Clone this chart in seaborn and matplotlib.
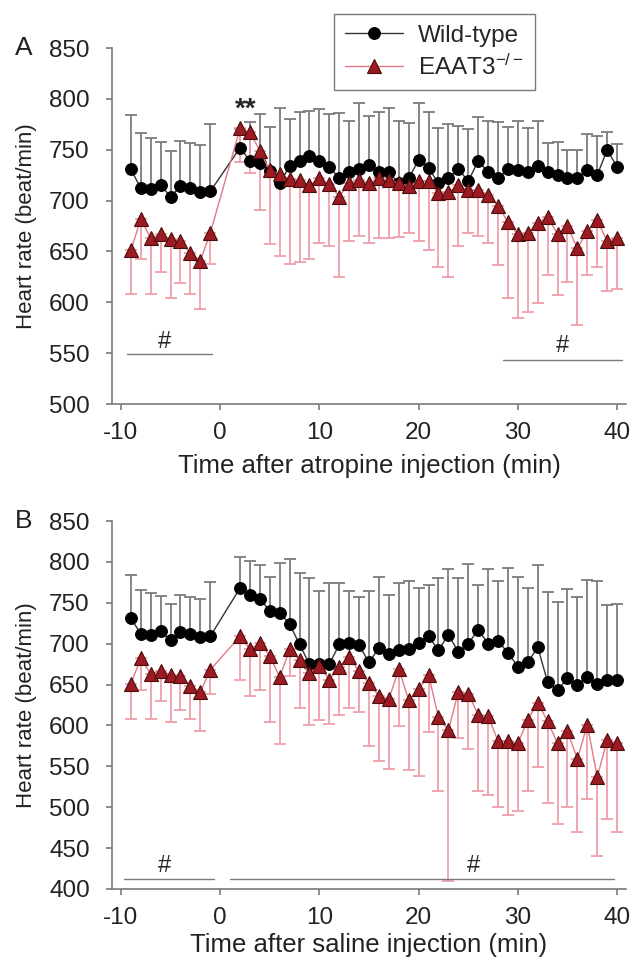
import matplotlib
matplotlib.use("Agg")
import matplotlib.pyplot as plt
import numpy as np
import seaborn as sns

sns.set_style("ticks")
plt.rcParams["font.family"] = ["Liberation Sans", "DejaVu Sans"]
plt.rcParams["mathtext.default"] = "regular"
plt.rcParams["axes.unicode_minus"] = False

# time points (min): baseline before injection, then 2..40 after
PRE_T = list(range(-9, 0))
POST_T = list(range(2, 41))

# baseline (same animals in both panels)
WT_PRE = [731, 712, 711, 715, 704, 714, 712, 708, 709]
WT_PRE_SD = [53, 54, 51, 43, 45, 45, 45, 47, 66]
KO_PRE = [651, 682, 663, 667, 662, 660, 648, 641, 668]
KO_PRE_SD = [43, 39, 55, 37, 58, 41, 40, 48, 30]

# panel A: atropine
WT_ATR = [752, 739, 737, 729, 717, 734, 739, 744, 739, 733, 722, 728, 731, 735,
          728, 728, 717, 722, 740, 732, 717, 722, 731, 719, 739, 728, 722, 731,
          730, 728, 734, 728, 725, 722, 722, 730, 725, 750, 733]
WT_ATR_SD = [18, 38, 48, 43, 74, 46, 48, 44, 51, 52, 64, 50, 65, 48, 59, 63, 61,
             54, 56, 55, 54, 53, 42, 51, 43, 50, 55, 41, 48, 43, 44, 29, 33, 28,
             28, 35, 39, 17, 23]
KO_ATR = [771, 767, 749, 730, 726, 721, 720, 715, 722, 716, 704, 717, 720, 717,
          722, 720, 717, 714, 719, 719, 707, 708, 715, 710, 710, 706, 695, 679,
          667, 668, 678, 684, 667, 675, 653, 670, 681, 660, 663]
KO_ATR_SD = [33, 40, 58, 73, 80, 83, 80, 72, 64, 61, 79, 57, 55, 59, 59, 57, 53,
             46, 59, 68, 72, 83, 60, 42, 45, 48, 58, 75, 82, 78, 79, 57, 60, 55,
             75, 43, 46, 49, 50]

# panel B: saline
WT_SAL = [768, 760, 755, 740, 738, 724, 699, 675, 675, 675, 699, 701, 698, 677,
          695, 687, 692, 694, 701, 709, 692, 711, 690, 700, 717, 700, 703, 689,
          672, 677, 696, 653, 643, 658, 650, 659, 651, 655, 655]
WT_SAL_SD = [38, 41, 41, 42, 61, 79, 87, 105, 90, 99, 75, 64, 59, 88, 87, 73, 82,
             83, 67, 63, 88, 80, 90, 98, 55, 91, 74, 104, 110, 91, 100, 110, 108,
             109, 107, 119, 126, 92, 94]
KO_SAL = [709, 693, 701, 685, 659, 693, 680, 664, 673, 656, 672, 684, 666, 652,
          636, 632, 669, 631, 644, 662, 610, 594, 641, 639, 613, 611, 581, 581,
          578, 607, 628, 605, 578, 593, 559, 601, 537, 582, 578]
KO_SAL_SD = [54, 57, 58, 81, 82, 33, 59, 63, 66, 54, 59, 63, 50, 77, 80, 85, 70,
             86, 106, 70, 90, 184, 56, 68, 93, 96, 81, 91, 83, 87, 79, 100, 98, 93,
             89, 91, 97, 97, 108]

TIME = np.array(PRE_T + POST_T)

AXIS_GRAY = "#7a7a7a"
TEXT = "#222222"
WT_BAR = "#7c7c7c"
KO_LINE = "#e07a86"
KO_FACE = "#9c1a22"
KO_EDGE = "#4a0c0c"
KO_BAR = "#efa0aa"


def draw_panel(ax, wt, wt_sd, ko, ko_sd):
    wt = WT_PRE + wt
    wt_sd = WT_PRE_SD + wt_sd
    ko = KO_PRE + ko
    ko_sd = KO_PRE_SD + ko_sd
    zero = np.zeros(len(TIME))
    ax.errorbar(TIME, wt, yerr=[zero, wt_sd], fmt="none", ecolor=WT_BAR,
                elinewidth=1.3, capsize=4, capthick=1.3, zorder=1)
    ax.errorbar(TIME, ko, yerr=[ko_sd, zero], fmt="none", ecolor=KO_BAR,
                elinewidth=1.3, capsize=4, capthick=1.3, zorder=1)
    sns.lineplot(x=TIME, y=wt, ax=ax, color="#333333", lw=1, marker="o",
                 markersize=8.5, markerfacecolor="black", markeredgecolor="black",
                 label="Wild-type", zorder=3)
    sns.lineplot(x=TIME, y=ko, ax=ax, color=KO_LINE, lw=1, marker="^",
                 markersize=9.5, markerfacecolor=KO_FACE, markeredgecolor=KO_EDGE,
                 markeredgewidth=0.8, label="EAAT3$^{-/-}$", zorder=4)
    ax.get_legend().remove()
    ax.set_xlim(-10.9, 40.9)
    ax.set_xticks(range(-10, 41, 10))
    ax.set_ylabel("Heart rate (beat/min)", fontsize=16, color=TEXT, labelpad=9)
    for side in ["top", "right"]:
        ax.spines[side].set_visible(False)
    for side in ["left", "bottom"]:
        ax.spines[side].set_color(AXIS_GRAY)
        ax.spines[side].set_linewidth(1.2)
    ax.tick_params(colors=AXIS_GRAY, labelcolor=TEXT, labelsize=17.5,
                   length=4, width=1.2, direction="out")
    ax.tick_params(axis="x", pad=9)
    ax.tick_params(axis="y", pad=12)


fig = plt.figure(figsize=(6.34, 9.59), dpi=100)
ax_a = fig.add_axes([0.1767, 0.5787, 0.8107, 0.3712])
ax_b = fig.add_axes([0.1767, 0.0730, 0.8107, 0.3837])

draw_panel(ax_a, WT_ATR, WT_ATR_SD, KO_ATR, KO_ATR_SD)
ax_a.set_ylim(500, 850)
ax_a.set_yticks(range(500, 851, 50))
ax_a.set_xlabel("Time after atropine injection (min)", fontsize=18.5, color=TEXT,
                labelpad=7)

draw_panel(ax_b, WT_SAL, WT_SAL_SD, KO_SAL, KO_SAL_SD)
ax_b.set_ylim(400, 850)
ax_b.set_yticks(range(400, 851, 50))
ax_b.set_xlabel("Time after saline injection (min)", fontsize=18.5, color=TEXT,
                labelpad=3)

# significance marks
ax_a.text(2.6, 789, "**", fontsize=20, fontweight="bold", ha="center", va="center")
ax_a.plot([-9.4, -0.8], [549, 549], color=AXIS_GRAY, lw=1)
ax_a.text(-5.6, 561, "#", fontsize=17, ha="center", va="center")
ax_a.plot([28.5, 40.5], [543, 543], color=AXIS_GRAY, lw=1)
ax_a.text(34.5, 557, "#", fontsize=17, ha="center", va="center")

ax_b.plot([-9.7, -0.6], [412, 412], color=AXIS_GRAY, lw=1)
ax_b.text(-5.6, 428, "#", fontsize=17, ha="center", va="center")
ax_b.plot([1.0, 39.7], [412, 412], color=AXIS_GRAY, lw=1)
ax_b.text(25.5, 428, "#", fontsize=17, ha="center", va="center")

fig.text(15 / 634, 1 - 48 / 959, "A", fontsize=19, va="center", color=TEXT)
fig.text(15 / 634, 1 - 521 / 959, "B", fontsize=19, va="center", color=TEXT)

handles, labels = ax_a.get_legend_handles_labels()
fig.legend(handles, labels, loc="upper left", bbox_to_anchor=(334 / 634, 1 - 14 / 959),
           borderaxespad=0, frameon=True, fancybox=False, edgecolor=AXIS_GRAY,
           framealpha=1, fontsize=17.5, handlelength=2.4, handletextpad=0.6,
           borderpad=0.45, labelspacing=0.3)

fig.savefig("out.png", dpi=100)
